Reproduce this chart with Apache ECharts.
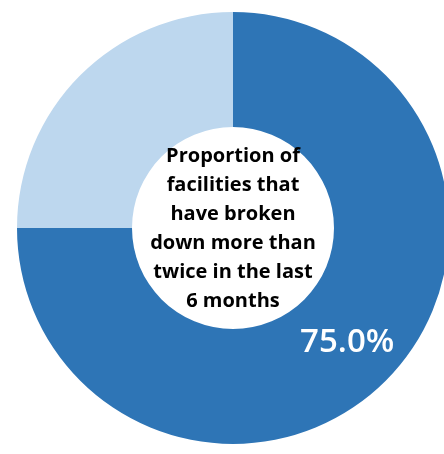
<!DOCTYPE html>
<html>
<head>
<meta charset="utf-8">
<script src="https://cdn.jsdelivr.net/npm/echarts@6/dist/echarts.min.js"></script>
<style>html,body{margin:0;padding:0;background:#fff}#c{width:444px;height:454px}</style>
</head>
<body>
<div id="c"></div>
<script>
var categories = ['Broken down more than twice', 'Other'];
var values = [75.0, 25.0];
var colors = ['#2E75B6', '#BDD7EE'];
var centerText = 'Proportion of\nfacilities that\nhave broken\ndown more than\ntwice in the last\n6 months';

var chart = echarts.init(document.getElementById('c'));
chart.setOption({
  backgroundColor: '#ffffff',
  animation: false,
  graphic: [{
    type: 'text',
    x: 233, y: 229,
    style: {
      text: centerText,
      fill: '#000',
      font: 'bold 20px "Open Sans", sans-serif',
      lineHeight: 29,
      textAlign: 'center',
      textVerticalAlign: 'middle'
    },
    z: 10
  }],
  series: [{
    type: 'pie',
    center: [233, 228],
    radius: [101, 216],
    startAngle: 90,
    clockwise: true,
    silent: true,
    itemStyle: { borderWidth: 0 },
    label: { show: false },
    labelLine: { show: false },
    data: categories.map(function (c, i) {
      return {
        name: c,
        value: values[i],
        itemStyle: { color: colors[i] },
        label: i === 0 ? {
          show: true,
          position: 'inside',
          formatter: function (p) { return p.value.toFixed(1) + '%'; },
          color: '#fff',
          fontSize: 33,
          fontWeight: 600,
          fontFamily: '"Open Sans", sans-serif'
        } : { show: false }
      };
    })
  }]
});
</script>
</body>
</html>
